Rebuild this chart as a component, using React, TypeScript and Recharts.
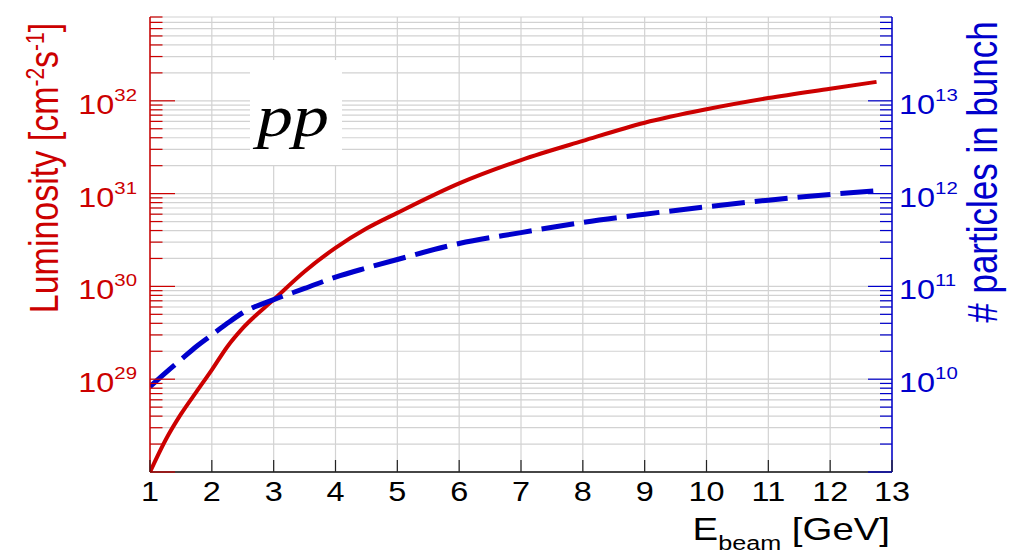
import { LineChart, Line, XAxis, YAxis, CartesianGrid } from "recharts";

/* ─── values ─── */
const energy = [1, 1.25, 1.5, 1.75, 2, 2.25, 2.5, 3, 3.5, 4, 4.5, 5, 6, 7, 8, 9, 10, 11, 12, 12.75];
const luminosity = [
  1.0e28, 2.2e28, 4.2e28, 7.3e28, 1.26e29, 2.24e29, 3.55e29, 7.2e29, 1.45e30, 2.6e30,
  4.2e30, 6.2e30, 1.29e31, 2.3e31, 3.7e31, 5.8e31, 8.1e31, 1.07e32, 1.35e32, 1.6e32,
];
const particles = [
  8.3e9, 1.17e10, 1.62e10, 2.25e10, 3.0e10, 4.0e10, 5.2e10, 7.2e10, 9.5e10, 1.26e11,
  1.58e11, 1.95e11, 2.9e11, 3.8e11, 4.9e11, 6.0e11, 7.2e11, 8.5e11, 9.8e11, 1.07e12,
];

const xTicks = [1, 2, 3, 4, 5, 6, 7, 8, 9, 10, 11, 12, 13];
const lumiDecades = [28, 29, 30, 31, 32];
const partDecades = [9, 10, 11, 12, 13];
const minorSteps = [1, 2, 3, 4, 5, 6, 7, 8, 9];
const lumiLabelled = [29, 30, 31, 32];
const partLabelled = [10, 11, 12, 13];

const data = energy.map((e, i) => ({ e, lumi: luminosity[i], np: particles[i] }));

const logTicks = (decades: number[], max: number) =>
  decades.flatMap((d) => minorSteps.map((m) => m * Math.pow(10, d))).filter((v) => v <= max * 1.0001);

const LUMI_MAX = 8e32;
const PART_MAX = 8e13;
const lumiTicks = logTicks(lumiDecades, LUMI_MAX);
const partTicks = logTicks(partDecades, PART_MAX);

const RED = "#cc0000";
const BLUE = "#0000cc";
const FONT = "'Liberation Sans', Arial, Helvetica, sans-serif";
const SX = 1.2; // reference text is a bit wide

const W = 1012, H = 554;
const PL = 150, PR = 892, PT = 17, PB = 472;

function decadeOf(v: number) {
  const l = Math.log10(v);
  const r = Math.round(l);
  return Math.abs(l - r) < 1e-6 ? r : null;
}

function LeftTick(props: any) {
  const { y, payload } = props;
  const d = decadeOf(payload.value);
  return (
    <g>
      <line x1={PL} x2={PL + (d !== null ? 25 : 12.5)} y1={y} y2={y} stroke={RED} strokeWidth={1.2} />
      {d !== null && lumiLabelled.includes(d) && (
        <g transform={`translate(137, ${y + 13}) scale(${SX},1)`}>
          <text textAnchor="end" fontSize={27} fill={RED} fontFamily={FONT}>
            10<tspan dy={-13} fontSize={17}>{d}</tspan>
          </text>
        </g>
      )}
    </g>
  );
}

function RightTick(props: any) {
  const { y, payload } = props;
  const d = decadeOf(payload.value);
  return (
    <g>
      <line x1={PR} x2={PR - (d !== null ? 24 : 12)} y1={y} y2={y} stroke={BLUE} strokeWidth={1.2} />
      {d !== null && partLabelled.includes(d) && (
        <g transform={`translate(899, ${y + 13}) scale(${SX},1)`}>
          <text textAnchor="start" fontSize={27} fill={BLUE} fontFamily={FONT}>
            10<tspan dy={-13} fontSize={17}>{d}</tspan>
          </text>
        </g>
      )}
    </g>
  );
}

function BottomTick(props: any) {
  const { x, payload } = props;
  return (
    <g>
      <line x1={x} x2={x} y1={PB} y2={PB - 12} stroke="#222" strokeWidth={1.2} />
      <g transform={`translate(${x}, ${PB + 29}) scale(${SX},1)`}>
        <text textAnchor="middle" fontSize={27} fill="#000" fontFamily={FONT}>
          {payload.value}
        </text>
      </g>
    </g>
  );
}

export default function App() {
  return (
    <div style={{ position: "absolute", left: 0, top: 0, width: W, height: H, background: "#fff" }}>
      <LineChart width={W} height={H} data={data} margin={{ top: PT, right: W - PR - 60, bottom: H - PB - 30, left: PL - 60 }}>
        <CartesianGrid xAxisId="b" yAxisId="L" stroke="#d2d2d2" strokeWidth={1.2} />
        <XAxis xAxisId="b" dataKey="e" type="number" domain={[1, 13]} ticks={xTicks} interval={0}
          tick={(p: any) => <BottomTick {...p} />} tickLine={false} height={30}
          axisLine={{ stroke: "#111", strokeWidth: 1.5 }} allowDataOverflow />
        <XAxis xAxisId="t" orientation="top" dataKey="e" type="number" domain={[1, 13]} height={0}
          tick={false} tickLine={false} axisLine={{ stroke: "#111", strokeWidth: 1.5 }} allowDataOverflow />
        <YAxis yAxisId="L" scale="log" type="number" domain={[1e28, LUMI_MAX]} ticks={lumiTicks} interval={0}
          tick={(p: any) => <LeftTick {...p} />} tickLine={false} width={60}
          axisLine={{ stroke: RED, strokeWidth: 1.5 }} allowDataOverflow />
        <YAxis yAxisId="R" orientation="right" scale="log" type="number" domain={[1e9, PART_MAX]} ticks={partTicks}
          interval={0} tick={(p: any) => <RightTick {...p} />} tickLine={false} width={60}
          axisLine={{ stroke: BLUE, strokeWidth: 1.5 }} allowDataOverflow />
        <Line xAxisId="b" yAxisId="L" type="monotone" dataKey="lumi" stroke={RED} strokeWidth={4}
          dot={false} isAnimationActive={false} />
        <Line xAxisId="b" yAxisId="R" type="monotone" dataKey="np" stroke={BLUE} strokeWidth={5}
          strokeDasharray="33 10" dot={false} isAnimationActive={false} />
      </LineChart>

      {/* titles + "pp" box */}
      <svg width={W} height={H} style={{ position: "absolute", left: 0, top: 0, pointerEvents: "none" }}>
        <rect x={250} y={60} width={92} height={105} fill="#fff" />
        <g transform={`translate(293, 136) scale(${SX},1)`}>
          <text textAnchor="middle" fontSize={60} fontStyle="italic" fontFamily="'Liberation Serif', 'Times New Roman', serif">
            pp
          </text>
        </g>
        <g transform={`translate(58, 168) scale(${SX},1) rotate(-90)`}>
          <text textAnchor="middle" fontSize={34} fill={RED} fontFamily={FONT}>
            Luminosity [cm<tspan dy={-12} fontSize={21}>-2</tspan>
            <tspan dy={12}>s</tspan>
            <tspan dy={-12} fontSize={21}>-1</tspan>
            <tspan dy={12}>]</tspan>
          </text>
        </g>
        <g transform={`translate(997, 172) scale(${SX},1) rotate(-90)`}>
          <text textAnchor="middle" fontSize={35} fill={BLUE} fontFamily={FONT}>
            # particles in bunch
          </text>
        </g>
        <g transform={`translate(890, 540) scale(${SX},1)`}>
          <text textAnchor="end" fontSize={32} fill="#000" fontFamily={FONT}>
            E<tspan dy={10} fontSize={21}>beam</tspan>
            <tspan dy={-10}>{" [GeV]"}</tspan>
          </text>
        </g>
      </svg>
    </div>
  );
}
